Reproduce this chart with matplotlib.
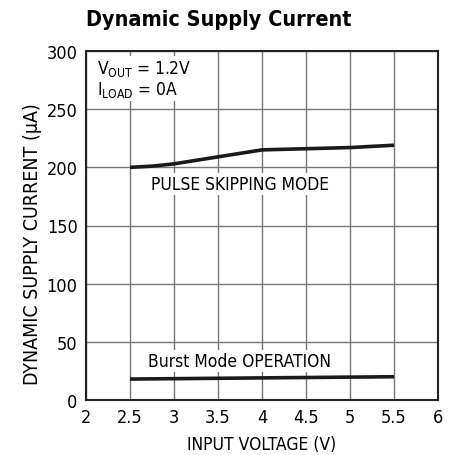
import matplotlib.pyplot as plt
import numpy as np

plt.rcParams['font.family'] = ['DejaVu Sans']
plt.rcParams['font.stretch'] = 'condensed'

# data
vin_pulse = [2.5, 2.75, 3.0, 3.5, 4.0, 4.5, 5.0, 5.5]
i_pulse = [200, 201, 203, 209, 215, 216, 217, 219]
vin_burst = [2.5, 5.5]
i_burst = [18, 20]

xticks = [2, 2.5, 3, 3.5, 4, 4.5, 5, 5.5, 6]
xticklabels = ['2', '2.5', '3', '3.5', '4', '4.5', '5', '5.5', '6']
yticks = [0, 50, 100, 150, 200, 250, 300]

fig = plt.figure(figsize=(4.6, 4.56), dpi=100)
ax = fig.add_axes([86/460, 55/456, 352/460, 349/456])

ax.plot(vin_pulse, i_pulse, color='#1a1a1a', lw=2.6, solid_capstyle='butt', zorder=3)
ax.plot(vin_burst, i_burst, color='#1a1a1a', lw=2.6, solid_capstyle='butt', zorder=3)

ax.set_xlim(2, 6)
ax.set_ylim(0, 300)
ax.set_xticks(xticks)
ax.set_xticklabels(xticklabels)
ax.set_yticks(yticks)
ax.grid(True, color='#777777', lw=1.0)
ax.set_axisbelow(True)
ax.tick_params(length=0, labelsize=13, pad=6)
for s in ax.spines.values():
    s.set_linewidth(1.5)
    s.set_color('#222222')

ax.set_xlabel('INPUT VOLTAGE (V)', fontsize=12.5, labelpad=6)
ax.set_ylabel('DYNAMIC SUPPLY CURRENT (μA)', fontsize=14)
ax.yaxis.set_label_coords(-0.125, 0.45)

box = dict(facecolor='white', edgecolor='none', pad=1.5)
ax.text(2.12, 294, r'V$_{\mathregular{OUT}}$ = 1.2V' + '\n' + r'I$_{\mathregular{LOAD}}$ = 0A',
        fontsize=12.5, va='top', ha='left', bbox=box, linespacing=1.05)
ax.text(3.75, 186, 'PULSE SKIPPING MODE', fontsize=12.5, ha='center', va='center', bbox=box)
ax.text(3.74, 33.5, 'Burst Mode OPERATION', fontsize=12.5, ha='center', va='center', bbox=box)

fig.text(86/460, 1 - 20/456, 'Dynamic Supply Current', fontsize=15.5, fontweight='bold',
         ha='left', va='center')

fig.savefig('out.png', dpi=100)
